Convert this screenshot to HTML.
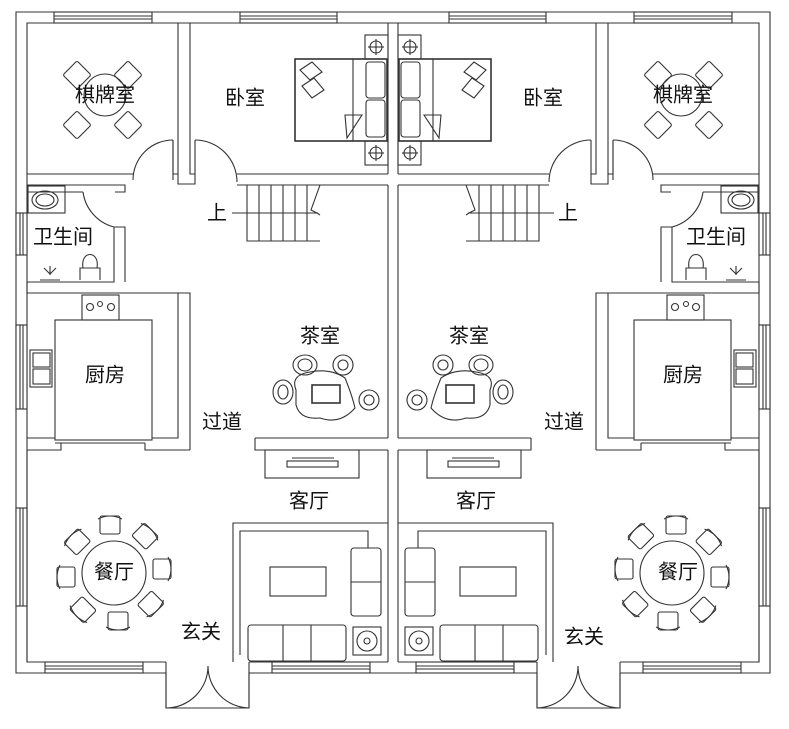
<!DOCTYPE html>
<html><head><meta charset="utf-8"><style>
html,body{margin:0;padding:0;background:#fff;}
svg{display:block}
text{font-family:"Liberation Sans","Noto Sans CJK SC",sans-serif;font-size:20px;fill:#111;text-anchor:middle;dominant-baseline:middle}
</style></head><body>
<svg width="789" height="729" viewBox="0 0 789 729" xmlns="http://www.w3.org/2000/svg">
<defs>
<g id="half" fill="none" stroke="#333" stroke-width="1.1">
  <path d="M393 12 H16 V673 H166"/>
  <path d="M393 23 H27 V662 H166"/>
  <path d="M249 673 H393"/>
  <path d="M249 662 H388"/>
  <rect x="54" y="12" width="98" height="11" fill="#fff"/>
  <line x1="54" y1="16" x2="152" y2="16"/><line x1="54" y1="19" x2="152" y2="19"/>
  <rect x="240" y="12" width="97" height="11" fill="#fff"/>
  <line x1="240" y1="16" x2="337" y2="16"/><line x1="240" y1="19" x2="337" y2="19"/>
  <rect x="45" y="662" width="98" height="11" fill="#fff"/>
  <line x1="45" y1="666" x2="143" y2="666"/><line x1="45" y1="669" x2="143" y2="669"/>
  <rect x="272" y="662" width="98" height="11" fill="#fff"/>
  <line x1="272" y1="666" x2="370" y2="666"/><line x1="272" y1="669" x2="370" y2="669"/>
  <rect x="16" y="213" width="11" height="42" fill="#fff"/><line x1="20" y1="213" x2="20" y2="255"/><line x1="23" y1="213" x2="23" y2="255"/>
  <rect x="16" y="325" width="11" height="84" fill="#fff"/><line x1="20" y1="325" x2="20" y2="409"/><line x1="23" y1="325" x2="23" y2="409"/>
  <rect x="16" y="508" width="11" height="98" fill="#fff"/><line x1="20" y1="508" x2="20" y2="606"/><line x1="23" y1="508" x2="23" y2="606"/>
  <line x1="388" y1="23" x2="388" y2="174"/><line x1="388" y1="185" x2="388" y2="438"/><line x1="388" y1="450" x2="388" y2="662"/>
  <path d="M27 174 H133 M173 140 V174 H178 V23"/>
  <path d="M190 23 V174 H195 V140"/>
  <path d="M178 174 V184 H195 V174"/>
  <path d="M173 140 A40 40 0 0 0 133 180"/>
  <line x1="173" y1="140" x2="173" y2="180"/>
  <path d="M195 140 A42 42 0 0 1 237 182"/>
  <path d="M237 174 H388 M237 185 H388"/>
  <path d="M27 185 H125 V192 H115"/>
  <path d="M27 192 H83"/>
  <path d="M83 192 A42 42 0 0 0 114 227"/>
  <path d="M114 227 H125 V282 M114 227 V282 H27"/>
  <rect x="28" y="186" width="37" height="27"/>
  <ellipse cx="45" cy="200" rx="13" ry="9"/><ellipse cx="45" cy="200" rx="9" ry="6"/>
  <path d="M80 280 V268 H100 V280 M83 268 C80 250 100 250 97 268"/>
  <path d="M40 280 H60 M50 266 V275 M44 268 L50 274 L56 268"/>
  <path d="M27 293 H190 V450 M27 450 H61 V443 M145 443 V450 H190"/>
  <path d="M27 282 V293"/>
  <path d="M27 438 H55 M152 438 H178 V293"/>
  <rect x="55" y="320" width="97" height="120"/>
  <path d="M55 443 H145"/>
  <rect x="82" y="295" width="37" height="25"/>
  <circle cx="90" cy="307" r="3.5"/><circle cx="100" cy="304" r="2.5"/><circle cx="111" cy="307" r="3.5"/>
  <rect x="30" y="350" width="22" height="37"/><rect x="33" y="353" width="17" height="14"/><rect x="33" y="369" width="17" height="15"/>
  <path d="M27 450 V662"/>
  <circle cx="114" cy="573" r="32"/>
  <g id="ch"><rect x="100" y="516" width="20" height="18" rx="2"/><path d="M98 519 Q110 513 122 519"/></g>
  <use href="#ch" transform="rotate(45 114 573)"/><use href="#ch" transform="rotate(90 114 573)"/><use href="#ch" transform="rotate(135 114 573)"/>
  <use href="#ch" transform="rotate(180 114 573)"/><use href="#ch" transform="rotate(225 114 573)"/><use href="#ch" transform="rotate(270 114 573)"/><use href="#ch" transform="rotate(315 114 573)"/>
  <circle cx="105" cy="95" r="21"/>
  <g id="cc"><rect x="67" y="65" width="20" height="20" rx="2" transform="rotate(45 77 75)"/></g>
  <use href="#cc" transform="translate(51 0)"/><use href="#cc" transform="translate(0 50)"/><use href="#cc" transform="translate(51 50)"/>
  <path d="M166 662 V708 H249 V662"/>
  <path d="M208 666 A42 42 0 0 1 166 708 M208 666 A42 42 0 0 0 249 708"/>
  <line x1="166" y1="673" x2="166" y2="708"/><line x1="249" y1="673" x2="249" y2="708"/>
  <path d="M247 185 V241 H320 M320 185 L311 210 L317 213 L320 215"/>
  <line x1="259" y1="185" x2="259" y2="241"/><line x1="271" y1="185" x2="271" y2="241"/><line x1="283" y1="185" x2="283" y2="241"/><line x1="295" y1="185" x2="295" y2="241"/><line x1="307" y1="185" x2="307" y2="241"/>
  <line x1="232" y1="213" x2="318" y2="213"/>
  <path d="M255 438 H388 M255 438 V450 H388 M255 450"/>
  <rect x="265" y="450" width="94" height="28"/>
  <rect x="287" y="461" width="51" height="6"/><line x1="292" y1="458" x2="334" y2="458"/>
  <path d="M233 662 V523 H388"/>
  <path d="M240 655 V531 H368 V548"/>
  <rect x="270" y="567" width="56" height="29"/>
  <rect x="248" y="625" width="98" height="36" rx="3"/>
  <line x1="283" y1="625" x2="283" y2="661"/><line x1="311" y1="625" x2="311" y2="661"/>
  <rect x="351" y="548" width="30" height="68" rx="3"/>
  <line x1="351" y1="582" x2="381" y2="582"/>
  <rect x="353" y="627" width="28" height="28"/><circle cx="367" cy="641" r="10"/><circle cx="367" cy="641" r="3"/>
  <rect x="295" y="59" width="92" height="82" stroke-width="1.6"/>
  <line x1="353" y1="59" x2="353" y2="141"/>
  <rect x="365" y="35" width="23" height="24"/><circle cx="376" cy="47" r="6"/><line x1="368" y1="47" x2="384" y2="47"/><line x1="376" y1="39" x2="376" y2="55"/>
  <rect x="365" y="141" width="23" height="24"/><circle cx="376" cy="153" r="6"/><line x1="368" y1="153" x2="384" y2="153"/><line x1="376" y1="145" x2="376" y2="161"/>
  <rect x="366" y="62" width="19" height="36" rx="3"/><rect x="366" y="100" width="19" height="37" rx="3"/>
  <path d="M345 115 L362 115 L347 138 Z"/>
  <path d="M300 70 L312 62 L322 72 L310 80 Z M302 86 L314 78 L324 90 L312 98 Z"/>
  <path d="M296 390 Q290 375 310 372 Q330 368 345 378 Q352 395 355 408 Q340 425 320 418 Q300 420 296 405 Z"/>
  <rect x="312" y="385" width="28" height="18" stroke-width="1.6"/>
  <ellipse cx="305" cy="365" rx="12" ry="10"/><ellipse cx="305" cy="365" rx="7" ry="6"/>
  <ellipse cx="343" cy="365" rx="10" ry="10"/><ellipse cx="343" cy="365" rx="5" ry="5"/>
  <ellipse cx="283" cy="392" rx="10" ry="12"/><ellipse cx="283" cy="392" rx="5" ry="7"/>
  <ellipse cx="369" cy="400" rx="10" ry="10"/><ellipse cx="369" cy="400" rx="5" ry="5"/>
</g>
</defs>
<use href="#half"/>
<use href="#half" transform="translate(786 0) scale(-1 1)"/>
<g>
<text x="105" y="96">棋牌室</text><text x="245" y="99">卧室</text><text x="217" y="214">上</text>
<text x="63" y="238">卫生间</text><text x="105" y="376">厨房</text><text x="320" y="337">茶室</text>
<text x="222" y="423">过道</text><text x="309" y="502">客厅</text><text x="114" y="573">餐厅</text><text x="201" y="633">玄关</text>
<text x="683" y="96">棋牌室</text><text x="543" y="99">卧室</text><text x="568" y="214">上</text>
<text x="716" y="238">卫生间</text><text x="683" y="376">厨房</text><text x="469" y="337">茶室</text>
<text x="564" y="423">过道</text><text x="476" y="502">客厅</text><text x="678" y="573">餐厅</text><text x="584" y="638">玄关</text>
</g>
</svg>
</body></html>
